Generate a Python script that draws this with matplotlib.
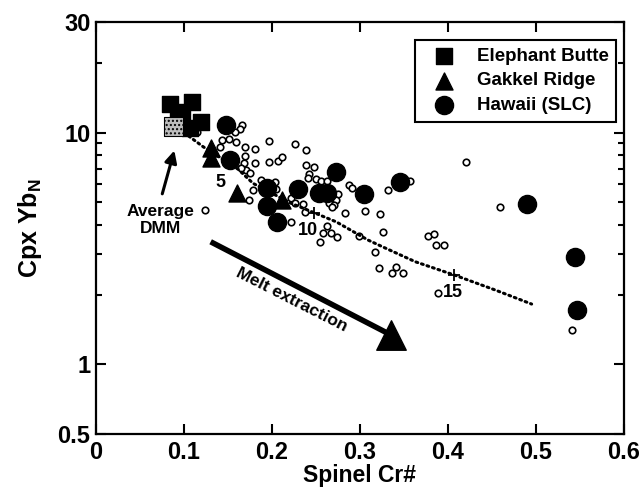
import matplotlib
matplotlib.use("Agg")
import matplotlib.pyplot as plt
from matplotlib.ticker import FixedLocator, NullFormatter

# Elephant Butte (filled squares)
eb_cr = [0.084, 0.109, 0.098, 0.119, 0.107, 0.093]
eb_yb = [13.3, 13.5, 12.3, 11.1, 10.5, 11.5]

# Average DMM (stippled square)
dmm_cr = [0.088]
dmm_yb = [10.6]

# Gakkel Ridge (filled triangles)
gakkel_cr = [0.131, 0.131, 0.160, 0.211]
gakkel_yb = [8.55, 7.74, 5.47, 5.11]

# Hawaii (SLC) (big filled circles)
hawaii_cr = [0.148, 0.152, 0.194, 0.194, 0.206, 0.229, 0.253, 0.263, 0.273,
             0.305, 0.346, 0.490, 0.544, 0.546]
hawaii_yb = [10.8, 7.6, 5.74, 4.82, 4.12, 5.69, 5.47, 5.47, 6.77,
             5.43, 6.13, 4.90, 2.91, 1.71]

# abyssal peridotites (small open circles)
other_cr = [0.1665, 0.1635, 0.1578, 0.1145, 0.1966, 0.1428, 0.1514, 0.1589, 0.1691,
            0.1804, 0.1408, 0.1966, 0.2068, 0.1812, 0.1691, 0.1683, 0.1710, 0.1748,
            0.1646, 0.1736, 0.1785, 0.1239, 0.2031, 0.2118, 0.2381, 0.2381, 0.2483,
            0.2426, 0.2407, 0.2502, 0.2559, 0.2622, 0.1880, 0.2050, 0.2219, 0.2257,
            0.2351, 0.2370, 0.2219, 0.2755, 0.2729, 0.2653, 0.2701, 0.2683, 0.2834,
            0.2879, 0.2910, 0.3060, 0.2622, 0.2577, 0.2672, 0.2735, 0.2547, 0.4199,
            0.3569, 0.3320, 0.3226, 0.3256, 0.2984, 0.3170, 0.3215, 0.3362, 0.3407,
            0.3490, 0.3769, 0.3840, 0.3860, 0.3954, 0.3882, 0.4595, 0.5405, 0.2265]
other_yb = [10.77, 10.32, 10.08, 10.02, 9.22, 9.28, 9.35, 9.07, 8.68,
            8.46, 8.68, 7.44, 7.55, 7.36, 7.92, 7.41, 6.89, 6.71,
            7.05, 5.11, 5.65, 4.63, 6.13, 7.86, 8.40, 7.24, 7.12,
            6.62, 6.34, 6.28, 6.19, 6.19, 6.24, 5.69, 5.20, 4.98,
            4.91, 4.55, 4.12, 5.41, 5.11, 4.98, 4.86, 4.76, 4.48,
            5.94, 5.74, 4.60, 3.95, 3.69, 3.67, 3.53, 3.38, 7.44,
            6.19, 5.65, 4.46, 3.71, 3.58, 3.04, 2.60, 2.49, 2.62,
            2.48, 3.58, 3.65, 3.27, 3.27, 2.04, 4.78, 1.41, 8.92]

# melting model curve (dotted) and its % melting marks
model_cr = [0.100, 0.109, 0.122, 0.1615, 0.1785, 0.222, 0.248, 0.273, 0.309,
            0.326, 0.363, 0.407, 0.454, 0.495]
model_yb = [10.0, 9.44, 8.68, 6.95, 6.04, 4.95, 4.51, 4.12, 3.44,
            3.21, 2.77, 2.43, 2.09, 1.82]
mark_cr = [0.248, 0.407]
mark_yb = [4.51, 2.43]
mark_labels = ["5", "10", "15"]
mark_label_cr = [0.141, 0.241, 0.405]
mark_label_yb = [6.1, 3.77, 2.05]

# melt extraction arrow (start, end)
melt_cr = [0.1303, 0.335]
melt_yb = [3.38, 1.34]

plt.rcParams['font.family'] = 'Liberation Sans'
plt.rcParams['font.weight'] = 'bold'
plt.rcParams['mathtext.fontset'] = 'custom'
plt.rcParams['mathtext.rm'] = 'Liberation Sans:bold'
plt.rcParams['mathtext.bf'] = 'Liberation Sans:bold'

fig = plt.figure(figsize=(6.44, 4.91), dpi=100)
ax = fig.add_axes([0.149, 0.116, 0.82, 0.839])

ax.scatter(other_cr, other_yb, s=22, facecolors='white', edgecolors='black',
           linewidths=1.2, zorder=2)
ax.plot(model_cr, model_yb, color='black', linewidth=2.2,
        linestyle=(0, (0.6, 1.3)), dash_capstyle='round', zorder=3)
ax.plot(mark_cr, mark_yb, linestyle='none', marker='+', markersize=9,
        markeredgewidth=1.3, color='black', zorder=3)
for lab, cx, cy in zip(mark_labels, mark_label_cr, mark_label_yb):
    ax.text(cx, cy, lab, fontsize=13, fontweight='bold', ha='center', va='center', zorder=5)

h_haw = ax.scatter(hawaii_cr, hawaii_yb, s=170, marker='o', color='black', zorder=4,
                   label='Hawaii (SLC)')
h_gak = ax.scatter(gakkel_cr, gakkel_yb, s=150, marker='^', color='black', zorder=4,
                   label='Gakkel Ridge')
h_eb = ax.scatter(eb_cr, eb_yb, s=120, marker='s', color='black', zorder=5,
                  label='Elephant Butte')
ax.scatter(dmm_cr, dmm_yb, s=190, marker='s', facecolors='#bdbdbd', edgecolors='black',
           linewidths=0.8, hatch='....', zorder=6)

# Average DMM arrow + label
ax.annotate('', xy=(0.0899, 8.6), xytext=(0.0745, 5.3),
            arrowprops=dict(arrowstyle='-|>', color='black', lw=2.2, mutation_scale=18))
ax.text(0.073, 4.2, 'Average\nDMM', fontsize=12.5, fontweight='bold',
        ha='center', va='center', linespacing=1.2)

# melt extraction arrow
ax.plot(melt_cr, melt_yb, color='black', linewidth=4, solid_capstyle='butt', zorder=3)
ax.scatter([melt_cr[1]], [melt_yb[1]], s=450, marker='^', color='black', zorder=4)
ax.text(0.222, 1.90, 'Melt extraction', fontsize=12.5, fontweight='bold',
        rotation=-27, ha='center', va='center', rotation_mode='anchor')

ax.set_yscale('log')
ax.set_xlim(0, 0.6)
ax.set_ylim(0.5, 30)
ax.yaxis.set_major_locator(FixedLocator([0.5, 1, 10, 30]))
ax.set_yticklabels(['0.5', '1', '10', '30'])
ax.yaxis.set_minor_locator(FixedLocator([2, 3, 4, 5, 6, 7, 8, 9, 20]))
ax.yaxis.set_minor_formatter(NullFormatter())
ax.set_xticks([0, 0.1, 0.2, 0.3, 0.4, 0.5, 0.6])
ax.set_xticklabels(['0', '0.1', '0.2', '0.3', '0.4', '0.5', '0.6'])

ax.tick_params(which='both', direction='in', top=True, right=True, width=1.5,
               labelsize=17)
ax.tick_params(which='major', length=7)
ax.tick_params(which='minor', length=4)
ax.tick_params(axis='x', pad=5)
ax.tick_params(axis='y', pad=4)
for sp in ax.spines.values():
    sp.set_linewidth(1.6)

ax.set_xlabel('Spinel Cr#', fontsize=16.5, fontweight='bold', labelpad=0)
ax.set_ylabel(r'Cpx Yb$_{\mathrm{N}}$', fontsize=18, fontweight='bold', labelpad=10)

leg = ax.legend(handles=[h_eb, h_gak, h_haw], loc='upper right',
                bbox_to_anchor=(0.985, 0.956), borderaxespad=0, scatterpoints=1,
                prop={'weight': 'bold', 'size': 13.5}, fancybox=False,
                framealpha=1, edgecolor='black', handlelength=2.3,
                handletextpad=0.6, labelspacing=0.4, borderpad=0.4)
leg.get_frame().set_linewidth(1.5)

plt.savefig('out.png', dpi=100)
